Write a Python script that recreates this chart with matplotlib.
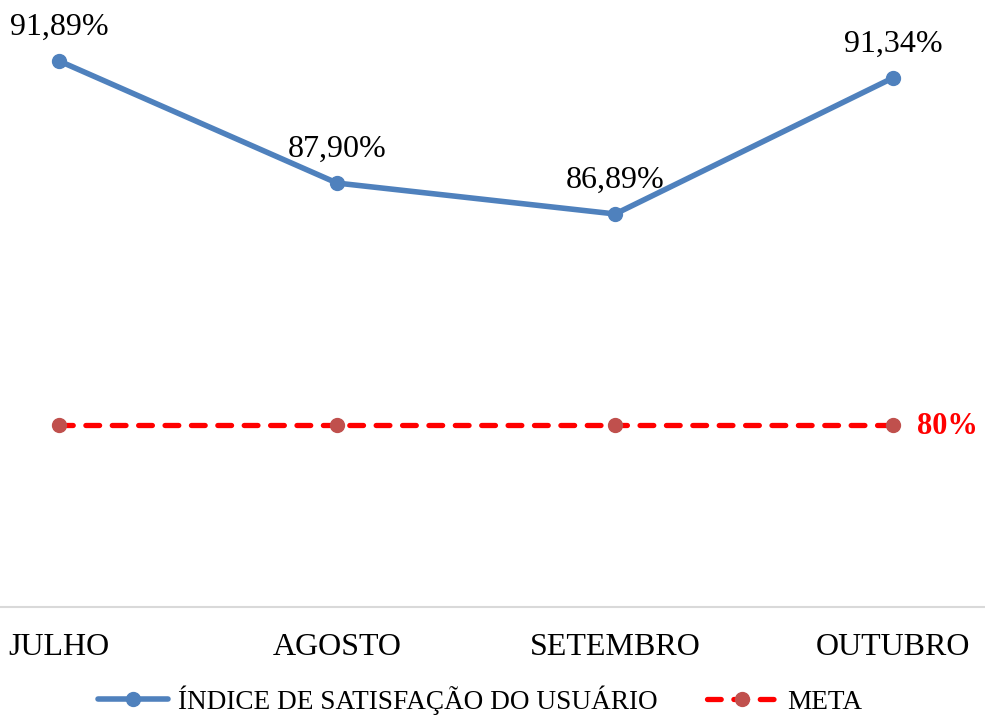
import matplotlib as mpl
mpl.use('Agg')
import matplotlib.pyplot as plt
from matplotlib.lines import Line2D

plt.rcParams['font.family'] = ['Liberation Serif', 'DejaVu Serif']

meses = ['JULHO', 'AGOSTO', 'SETEMBRO', 'OUTUBRO']
satisfacao = [91.89, 87.90, 86.89, 91.34]
meta = [80, 80, 80, 80]
rotulos = ['91,89%', '87,90%', '86,89%', '91,34%']
rotulo_meta = '80%'

azul = '#4F81BD'
vermelho = '#FF0000'
marcador_meta = '#C0504D'
traco = (0, (2.6, 2.4))

fig = plt.figure(figsize=(9.85, 7.17), dpi=100)
ax = fig.add_axes([0, 0.1534, 1, 0.8466])

x = list(range(len(meses)))
ax.plot(x, satisfacao, color=azul, linewidth=4.0, marker='o', markersize=10,
        solid_capstyle='round', label='ÍNDICE DE SATISFAÇÃO DO USUÁRIO')
ax.plot(x, meta, color=vermelho, linewidth=3.8, linestyle=traco,
        dash_capstyle='round', marker='o', markersize=10,
        markerfacecolor=marcador_meta, markeredgecolor=marcador_meta,
        label='META', zorder=3)

for xi, yi, txt in zip(x, satisfacao, rotulos):
    ax.annotate(txt, (xi, yi), xytext=(0, 24), textcoords='offset points',
                ha='center', va='center', fontsize=23)

ax.annotate(rotulo_meta, (x[-1], meta[-1]), xytext=(17, -1), textcoords='offset points',
            ha='left', va='center', fontsize=22, fontweight='bold', color=vermelho)

ax.set_xlim(-0.212, 3.33)
ax.set_ylim(74.05, 93.88)
ax.set_xticks(x)
ax.set_xticklabels(meses, fontsize=23)
ax.tick_params(axis='x', length=0, pad=19)
ax.set_yticks([])
for s in ['top', 'left', 'right']:
    ax.spines[s].set_visible(False)
ax.spines['bottom'].set_color('#D9D9D9')
ax.spines['bottom'].set_linewidth(1.5)

h1 = Line2D([], [], color=azul, linewidth=4.0, marker='o', markersize=10, solid_capstyle='round')
h2 = Line2D([], [], color=vermelho, linewidth=3.8, linestyle=traco, dash_capstyle='round',
            marker='o', markersize=10, markerfacecolor=marcador_meta, markeredgecolor=marcador_meta)
fig.legend([h1, h2], ['ÍNDICE DE SATISFAÇÃO DO USUÁRIO', 'META'], loc='center',
           bbox_to_anchor=(0.487, 0.024), ncol=2, frameon=False, fontsize=19.6,
           handlelength=2.6, handletextpad=0.35, columnspacing=1.8, borderpad=0)

fig.savefig('out.png', dpi=100)
